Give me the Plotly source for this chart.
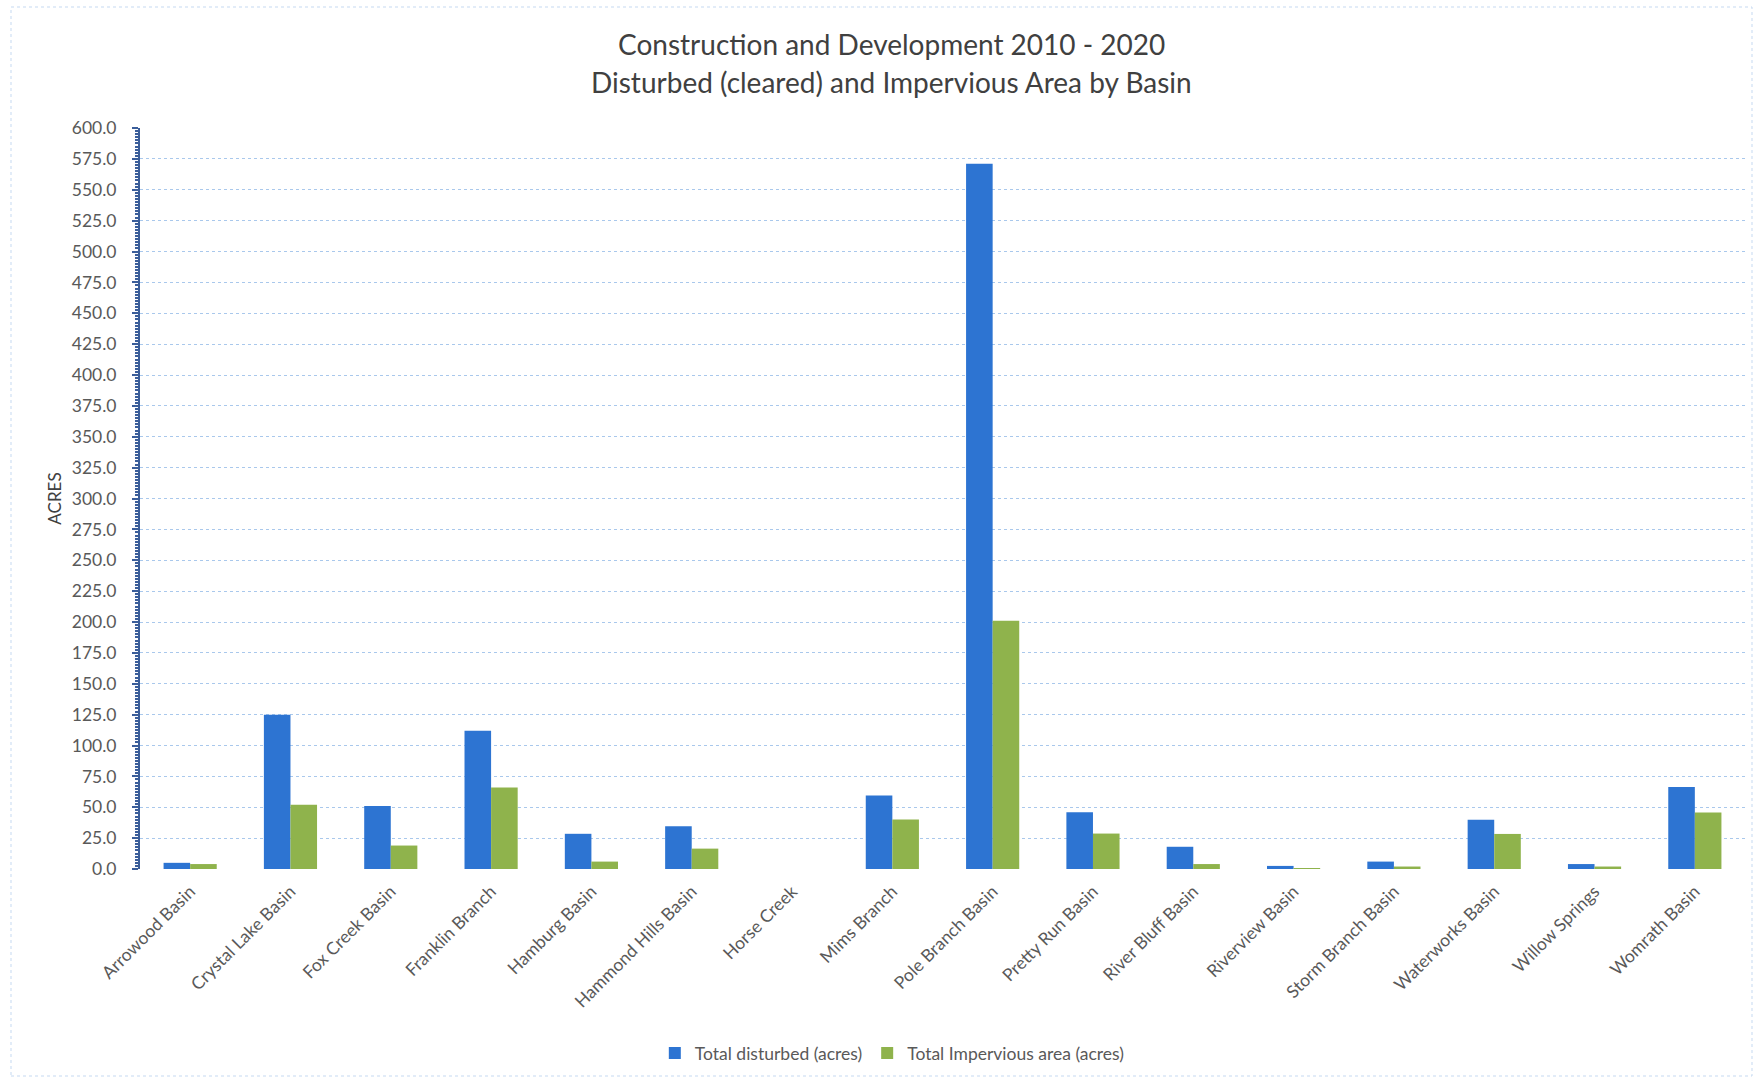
import plotly.graph_objects as go

categories = ["Arrowood Basin", "Crystal Lake Basin", "Fox Creek Basin", "Franklin Branch",
              "Hamburg Basin", "Hammond Hills Basin", "Horse Creek", "Mims Branch",
              "Pole Branch Basin", "Pretty Run Basin", "River Bluff Basin", "Riverview Basin",
              "Storm Branch Basin", "Waterworks Basin", "Willow Springs", "Womrath Basin"]
total_disturbed = [5.0, 125.0, 51.0, 112.0, 28.5, 34.7, 0.0, 59.5,
                   571.0, 46.0, 18.0, 2.5, 6.0, 39.8, 4.0, 66.3]
total_impervious = [4.0, 52.0, 19.0, 66.0, 6.0, 16.5, 0.0, 40.0,
                    201.0, 28.7, 4.0, 0.3, 2.0, 28.4, 2.0, 45.7]
y_ticks = [i * 25 for i in range(25)]
y_ticktext = [f"{v:.1f}" for v in y_ticks]

FONT = "Lato, 'Open Sans', sans-serif"
GREY = "#595959"

fig = go.Figure()
fig.add_trace(go.Bar(name="Total disturbed (acres)", x=categories, y=total_disturbed,
                     marker=dict(color="#2D74D2", line=dict(width=0))))
fig.add_trace(go.Bar(name="Total Impervious area (acres)", x=categories, y=total_impervious,
                     marker=dict(color="#8FB34C", line=dict(width=0))))

fig.update_layout(
    width=1760, height=1081,
    paper_bgcolor="white", plot_bgcolor="white",
    margin=dict(l=140, r=15, t=128, b=212),
    barmode="group", bargap=0.47, bargroupgap=0,
    font=dict(family=FONT, color=GREY, size=16),
    showlegend=True,
    legend=dict(orientation="h", x=0.507, xanchor="center", xref="container",
                y=(1081 - 1053) / 1081, yref="container", yanchor="middle",
                font=dict(size=17.5, color=GREY), traceorder="normal",
                itemwidth=30, entrywidth=0),
)

fig.update_xaxes(
    tickangle=-45, tickfont=dict(size=17.5, color=GREY),
    showgrid=False, showline=False, ticks="", ticklabelstandoff=8,
)
fig.update_yaxes(
    range=[0, 600], tickvals=y_ticks, ticktext=y_ticktext,
    tickfont=dict(size=17.5, color=GREY),
    showgrid=True, gridcolor="#A9C8EC", griddash="dot", gridwidth=1,
    showline=True, linecolor="#3B5E9A", linewidth=2,
    ticks="outside", ticklen=6, tickcolor="#3B5E9A", tickwidth=2,
    minor=dict(dtick=2.5, ticks="outside", ticklen=3, tickcolor="#3B5E9A", showgrid=False),
    zeroline=False, ticklabelstandoff=12,
    title=dict(text="ACRES", font=dict(size=17, color="#404040"), standoff=6),
)

title_x = (891 - 140) / (1745 - 140)
fig.add_annotation(text="Construction and Development 2010 - 2020", xref="paper", yref="paper",
                   x=title_x, y=1 + (128 - 44) / 741,
                   showarrow=False, xanchor="center", yanchor="middle",
                   font=dict(size=28, color="#404040", family=FONT))
fig.add_annotation(text="Disturbed (cleared) and Impervious Area by Basin", xref="paper", yref="paper",
                   x=title_x, y=1 + (128 - 82) / 741,
                   showarrow=False, xanchor="center", yanchor="middle",
                   font=dict(size=28, color="#404040", family=FONT))

# faint dotted chart frame
fig.add_shape(type="rect", xref="paper", yref="paper",
              x0=(11 - 140) / 1605, x1=(1752 - 140) / 1605,
              y0=-(1081 - 869 - 5) / 741, y1=1 + (128 - 7) / 741,
              line=dict(color="#C5D9F1", width=1, dash="dot"), layer="below")

fig.write_html("out.html")
